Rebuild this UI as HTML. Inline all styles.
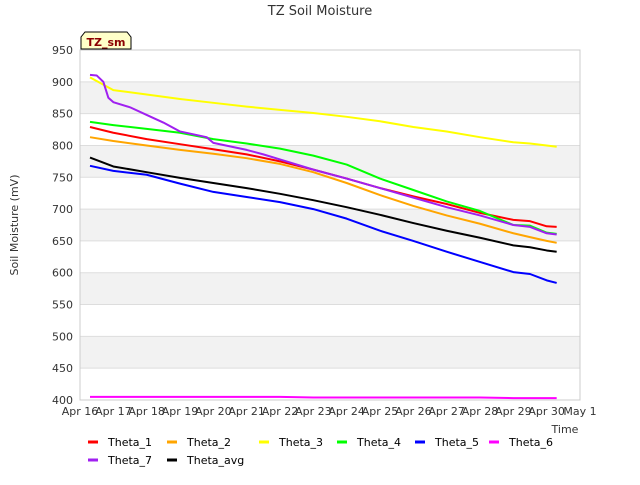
<!DOCTYPE html>
<html><head><meta charset="utf-8"><style>
body{margin:0;background:#fff;font-family:"Liberation Sans","DejaVu Sans",sans-serif;}
</style></head><body>
<svg width="640" height="480" id="chart" font-family="DejaVu Sans, Liberation Sans, sans-serif">
<text x="320" y="15" text-anchor="middle" font-size="13" fill="#333">TZ Soil Moisture</text>
<text transform="translate(18,225) rotate(-90)" text-anchor="middle" font-size="11" fill="#333">Soil Moisture (mV)</text>
<text x="565" y="433" text-anchor="middle" font-size="11" fill="#333">Time</text>
<g id="bands"></g><g id="grid"></g><g id="ticks"></g><g id="lines"></g>
<rect x="80" y="50" width="500" height="350" fill="none" stroke="#ccc"/>
<g>
<path d="M81,49 L81,37 L85,32 L127,32 L131,37 L131,49 Z" fill="#ffffc8" stroke="#000"/>
<text x="106" y="46" text-anchor="middle" font-size="11" font-weight="bold" fill="#8b0000">TZ_sm</text>
</g>
<g id="legend"></g>
</svg>
<script>
const days=[16.3,17,18,19,20,21,22,23,24,25,26,27,28,29,29.5,30,30.3];
const days7=[16.3,16.5,16.7,16.85,17,17.5,18,18.5,19,19.8,20,21,21.5,22,23,24,25,26,27,28,29,29.5,30,30.3];
const theta1=[829,820,810,802,794,786,775,762,748,733,720,708,694,683,681,673,672];
const theta2=[813,807,800,793,787,780,771,758,741,722,705,690,677,662,656,650,647];
const theta3=[907,887,880,873,867,861,856,851,845,838,829,822,813,805,803,800,798];
const theta4=[837,832,826,820,810,803,795,784,770,748,730,712,697,675,674,663,661];
const theta5=[768,760,754,740,727,719,711,700,685,666,650,633,617,601,598,588,584];
const theta6=[405,405,405,405,405,405,405,404,404,404,404,404,404,403,403,403,403];
const theta7=[911,910,900,875,868,860,848,836,822,813,804,793,786,778,762,748,733,718,703,690,675,672,662,660];
const thetaAvg=[781,767,758,749,741,733,724,714,703,691,678,666,655,643,640,635,633];
const yTicks=[400,450,500,550,600,650,700,750,800,850,900,950];
const xLabels=["Apr 16","Apr 17","Apr 18","Apr 19","Apr 20","Apr 21","Apr 22","Apr 23","Apr 24","Apr 25","Apr 26","Apr 27","Apr 28","Apr 29","Apr 30","May 1"];
const NS="http://www.w3.org/2000/svg";
const X=d=>80+(d-16)*500/15;
const Y=v=>400-(v-400)*350/550;
function mk(t,a,p){const e=document.createElementNS(NS,t);for(const k in a)e.setAttribute(k,a[k]);p.appendChild(e);return e;}
const bands=document.getElementById('bands'),grid=document.getElementById('grid'),ticks=document.getElementById('ticks'),lines=document.getElementById('lines'),legend=document.getElementById('legend');
for(let v=450;v<950;v+=100){const r=mk('rect',{x:80,y:Y(v+50),width:500,height:Y(v)-Y(v+50),fill:'#f2f2f2'},bands);

}
yTicks.forEach(v=>{const l=mk('line',{x1:80,x2:580,y1:Y(v),y2:Y(v),stroke:'#ddd'},grid);


const t=mk('text',{x:73,y:Y(v)+4,'text-anchor':'end','font-size':11,fill:'#333'},ticks);t.textContent=v;

});
xLabels.forEach((s,i)=>{const t=mk('text',{x:X(16+i),y:415,'text-anchor':'middle','font-size':11,fill:'#333'},ticks);t.textContent=s;

});
const series=[["Theta_1",theta1,"#ff0000",days],["Theta_2",theta2,"#ffa500",days],["Theta_3",theta3,"#ffff00",days],["Theta_4",theta4,"#00ff00",days],["Theta_5",theta5,"#0000ff",days],["Theta_6",theta6,"#ff00ff",days],["Theta_7",theta7,"#a020f0",days7],["Theta_avg",thetaAvg,"#000000",days]];
series.forEach(([n,vals,c,dd])=>{const pts=vals.map((v,i)=>X(dd[i])+','+Y(v));
const p=mk('polyline',{points:pts.join(' '),fill:'none',stroke:c,'stroke-width':2,'stroke-linejoin':'round'},lines);

});
const lx=[88,167,259,337,415,489];
series.forEach(([n,vals,c],i)=>{const x=i<6?lx[i]:lx[i-6],y=i<6?442:460;
const g=mk('g',{},legend);


mk('line',{x1:x,x2:x+10,y1:y,y2:y,stroke:c,'stroke-width':3},g);
const t=mk('text',{x:x+20,y:y+4,'font-size':11,fill:'#000'},g);t.textContent=n;});
</script>
</body></html>
